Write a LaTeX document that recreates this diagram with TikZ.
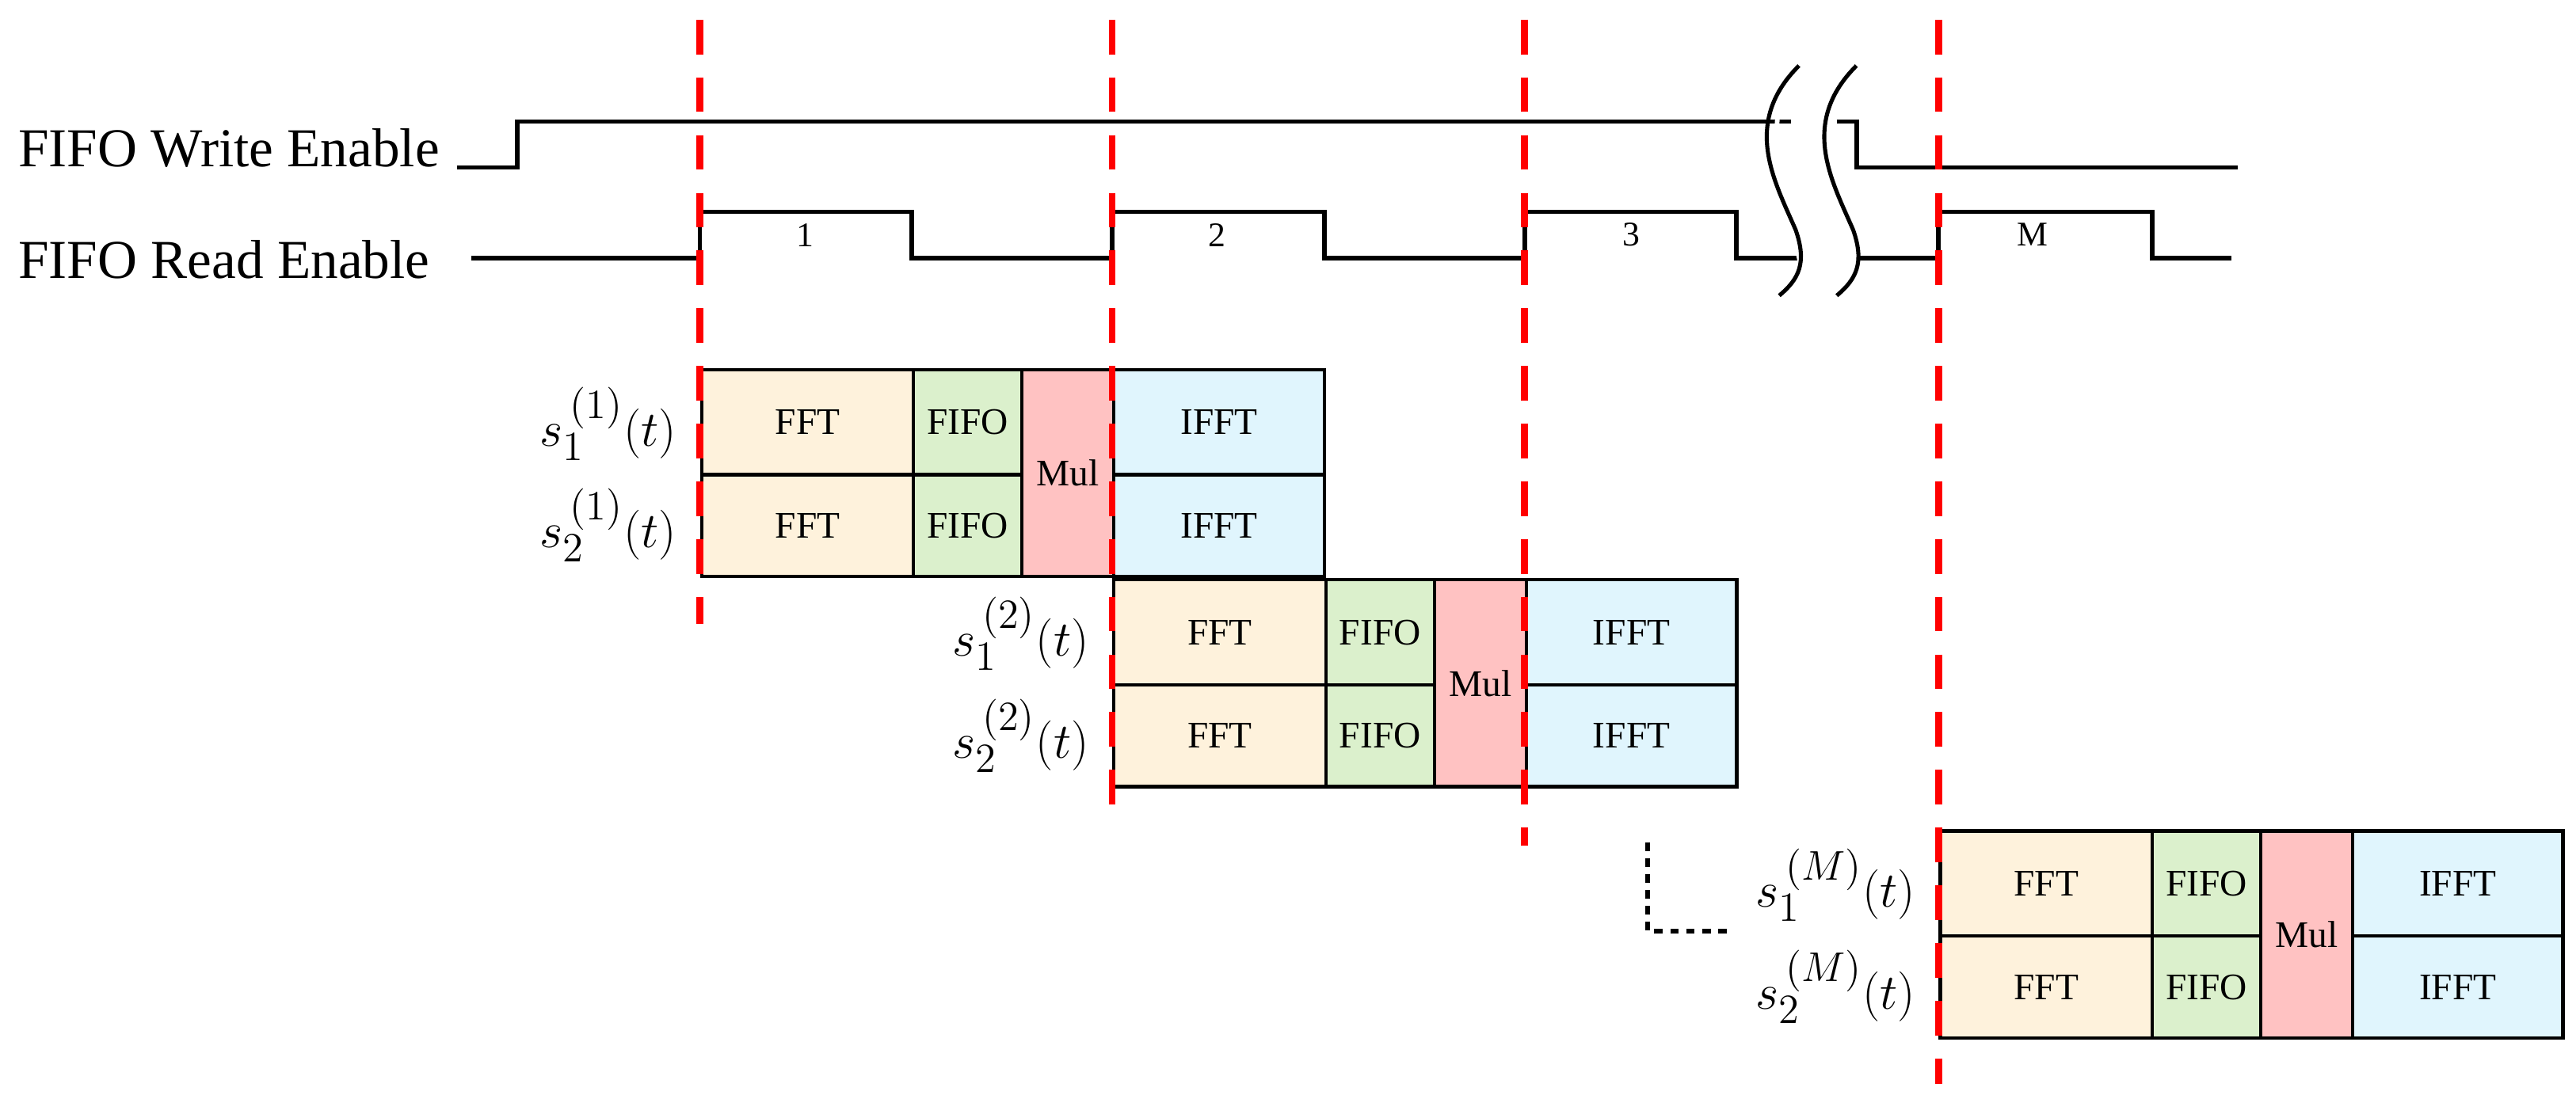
\documentclass[tikz,border=0pt]{standalone}
\usepackage{fontspec}
\setmainfont{Liberation Serif}
\begin{document}
\begin{tikzpicture}[x=0.02cm,y=-0.02cm,
  sig/.style={line width=1.6pt,black},
  red/.style={draw=red,line width=2.4pt,dash pattern=on 12pt off 8pt},
  blk/.style={draw=black,line width=1.2pt,anchor=north west,inner sep=0pt,font=\fontsize{13}{13}\selectfont},
  fft/.style={blk,fill=yellow!25!orange!12},
  ffo/.style={blk,fill=green!40!olive!20},
  mul/.style={blk,fill=red!12!pink!70},
  ifft/.style={blk,fill=cyan!12},
  lab/.style={font=\fontsize{19}{19}\selectfont},
  num/.style={font=\fontsize{12}{12}\selectfont},
  sl/.style={anchor=east,font=\fontsize{19}{19}\selectfont}]
\useasboundingbox (0,0) rectangle (1568,669);
% signals
\node[lab,anchor=west] (we) at (5,90) {FIFO Write Enable};
\node[lab,anchor=west] (re) at (5,158) {FIFO Read Enable};
\draw[sig] (278,102) -- (315,102) -- (315,74) -- (1090,74);
\draw[sig] (1118,74) -- (1130,74) -- (1130,102) -- (1362,102);
\draw[sig] (287,157) -- (426,157) -- (426,129) -- (555,129) -- (555,157) -- (677,157) -- (677,129) -- (806,129) -- (806,157) -- (928,157) -- (928,129) -- (1057,129) -- (1057,157) -- (1095,157);
\draw[sig] (1130,157) -- (1180,157) -- (1180,129) -- (1310,129) -- (1310,157) -- (1358,157);
\draw[line width=1.6pt,white] (1095,40) .. controls (1070,70) and (1085,110) .. (1098,170);
\draw[line width=1.4pt] (1095,40) .. controls (1060,75) and (1080,110) .. (1093,140) .. controls (1100,160) and (1095,170) .. (1083,180);
\draw[line width=1.4pt] (1130,40) .. controls (1095,75) and (1115,110) .. (1128,140) .. controls (1135,160) and (1130,170) .. (1118,180);
\node[num] (n1) at (490,143) {1};
\node[num] (n2) at (741,143) {2};
\node[num] (n3) at (993,143) {3};
\node[num] (nM) at (1237,143) {M};
% blocks
\foreach \g/\x/\y/\k in {a/426/224/1, b/677/352/2, c/1180/505/M} {
  \pgfmathsetmacro\yb{\y+64}
  \node[fft,minimum width=129*0.02cm,minimum height=64*0.02cm] (\g f1) at (\x,\y) {FFT};
  \node[fft,minimum width=129*0.02cm,minimum height=62*0.02cm] (\g f2) at (\x,\yb) {FFT};
  \node[ffo,minimum width=66*0.02cm,minimum height=64*0.02cm] (\g o1) at (\x+129,\y) {FIFO};
  \node[ffo,minimum width=66*0.02cm,minimum height=62*0.02cm] (\g o2) at (\x+129,\yb) {FIFO};
  \node[mul,minimum width=56*0.02cm,minimum height=126*0.02cm] (\g m) at (\x+195,\y) {Mul};
  \node[ifft,minimum width=128*0.02cm,minimum height=64*0.02cm] (\g i1) at (\x+251,\y) {IFFT};
  \node[ifft,minimum width=128*0.02cm,minimum height=62*0.02cm] (\g i2) at (\x+251,\yb) {IFFT};
  \node[sl] (\g s1) at (\x-8,\y+34) {$s_1^{\,(\k)}(t)$};
  \node[sl] (\g s2) at (\x-8,\yb+32) {$s_2^{\,(\k)}(t)$};
}
% red dashed lines
\draw[red] (426,12) -- (426,380);
\draw[red] (677,12) -- (677,490);
\draw[red] (928,12) -- (928,515);
\draw[red] (1180,12) -- (1180,660);
% dotted corner
\draw[line width=1.6pt,dash pattern=on 3pt off 2.5pt] (1003,513) -- (1003,567) -- (1055,567);
\end{tikzpicture}
\end{document}
